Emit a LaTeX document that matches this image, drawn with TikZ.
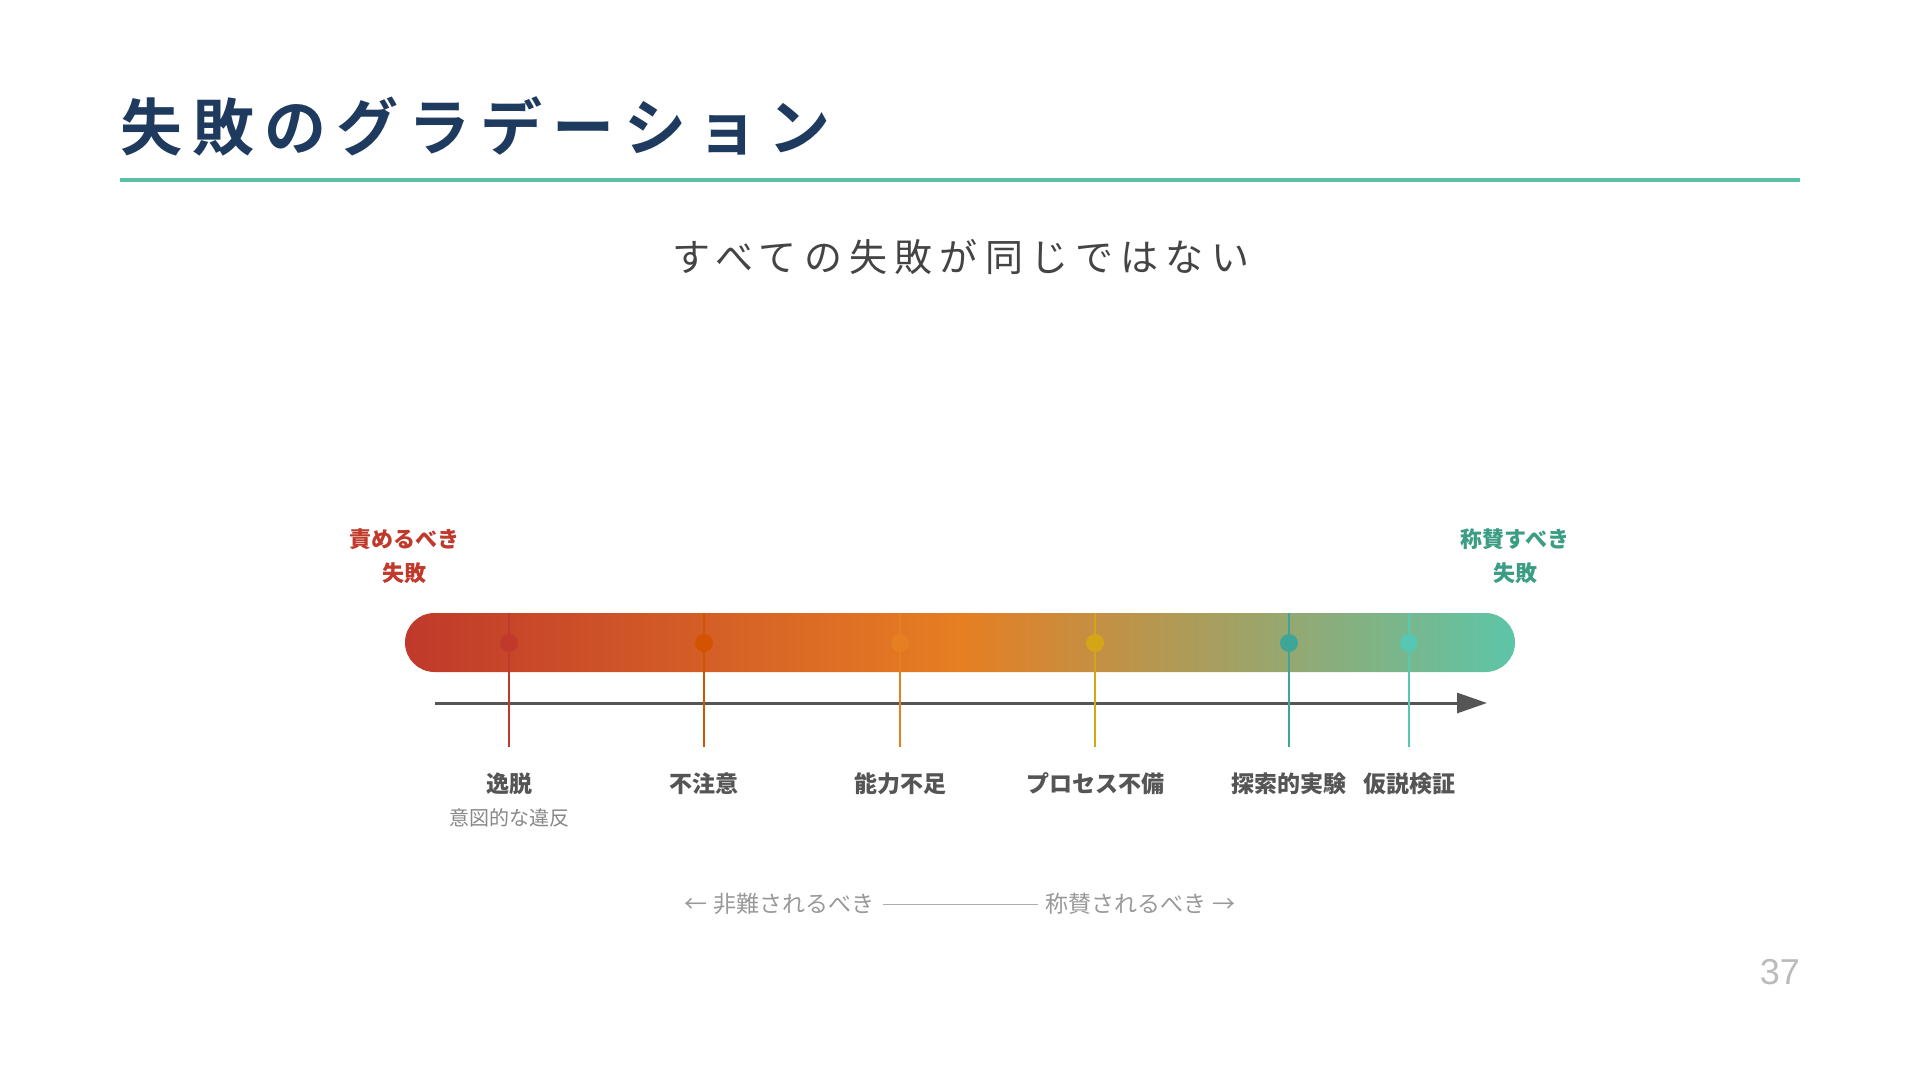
\documentclass[tikz,border=0pt]{standalone}
\usepackage{fontspec}
\setmainfont{Noto Sans CJK JP}
\newfontfamily\titlefont{Noto Sans CJK JP Bold}
\newfontfamily\subfont[LetterSpace=19]{Noto Sans CJK JP}
\newfontfamily\numfont{Liberation Sans}
\newcommand\titlegap{\kern10pt}
\usetikzlibrary{arrows.meta}

\definecolor{titlenavy}{HTML}{1E3A5F}
\definecolor{rulegreen}{HTML}{5DBFA6}
\definecolor{textdark}{HTML}{444444}
\definecolor{labeldark}{HTML}{555555}
\definecolor{subgray}{HTML}{888888}
\definecolor{notegray}{HTML}{999999}
\definecolor{pagegray}{HTML}{BBBBBB}
\definecolor{blamered}{HTML}{C0392B}
\definecolor{praisegreen}{HTML}{3A9D84}
\definecolor{cdeviate}{HTML}{C0392B}
\definecolor{ccareless}{HTML}{D35400}
\definecolor{cskill}{HTML}{E67E22}
\definecolor{cprocess}{HTML}{D4A517}
\definecolor{cexplore}{HTML}{3FA596}
\definecolor{chypo}{HTML}{55C7B2}
\definecolor{barleft}{HTML}{C0392B}
\definecolor{barmid}{HTML}{E67E22}
\definecolor{barright}{HTML}{5DC5A8}

\begin{document}
\begin{tikzpicture}[x=1pt, y=-1pt,
    tick/.style = {line width=2.5pt},
    dot/.style = {circle, inner sep=0pt, minimum size=18pt},
    kind/.style = {font=\bfseries\fontsize{23}{23}\selectfont, text=labeldark, inner sep=0pt},
    endlabel/.style = {font=\bfseries\fontsize{22}{34}\selectfont, align=center, inner sep=0pt}]
  \useasboundingbox[fill=white] (0,0) rectangle (1920,1080);

  % heading
  \node[anchor=west, inner sep=0pt, text=titlenavy,
        font=\titlefont\fontsize{62}{62}\selectfont] (title) at (120,126)
    {失\titlegap 敗\titlegap の\titlegap グ\titlegap ラ\titlegap デ\titlegap ー\titlegap シ\titlegap ョ\titlegap ン};
  \coordinate (ruleL) at (120,180);
  \coordinate (ruleR) at (1800,180);
  \draw[rulegreen, line width=4pt] (ruleL) -- (ruleR);
  \node[inner sep=0pt, text=textdark, font=\subfont\fontsize{38}{38}\selectfont] (lead) at (961,257) {すべての失敗が同じではない};

  % gradient bar
  \shade[left color=barleft, right color=barright, middle color=barmid, rounded corners=29.5pt]
    (405,613) rectangle (1515,672);

  % axis
  \coordinate (axisL) at (435,703);
  \coordinate (axisR) at (1487,703);
  \draw[labeldark, line width=3pt, -{Triangle[length=30pt, width=20pt]}] (axisL) -- (axisR);

  % end labels
  \node[endlabel, text=blamered] (blame) at (404,556) {責めるべき\\失敗};
  \node[endlabel, text=praisegreen] (praise) at (1515,556) {称賛すべき\\失敗};

  % markers
  \coordinate (t1) at ( 509,613); \coordinate (b1) at ( 509,747);
  \coordinate (t2) at ( 704,613); \coordinate (b2) at ( 704,747);
  \coordinate (t3) at ( 900,613); \coordinate (b3) at ( 900,747);
  \coordinate (t4) at (1095,613); \coordinate (b4) at (1095,747);
  \coordinate (t5) at (1289,613); \coordinate (b5) at (1289,747);
  \coordinate (t6) at (1409,613); \coordinate (b6) at (1409,747);

  \draw[tick, cdeviate]  (t1) -- (b1);
  \draw[tick, ccareless] (t2) -- (b2);
  \draw[tick, cskill]    (t3) -- (b3);
  \draw[tick, cprocess]  (t4) -- (b4);
  \draw[tick, cexplore]  (t5) -- (b5);
  \draw[tick, chypo]     (t6) -- (b6);

  \node[dot, fill=cdeviate]  at ( 509,643) (d1) {};
  \node[dot, fill=ccareless] at ( 704,643) (d2) {};
  \node[dot, fill=cskill]    at ( 900,643) (d3) {};
  \node[dot, fill=cprocess]  at (1095,643) (d4) {};
  \node[dot, fill=cexplore]  at (1289,643) (d5) {};
  \node[dot, fill=chypo]     at (1409,643) (d6) {};

  \node[kind] at ( 509,784) (k1) {逸脱};
  \node[kind] at ( 704,784) (k2) {不注意};
  \node[kind] at ( 900,784) (k3) {能力不足};
  \node[kind] at (1095,784) (k4) {プロセス不備};
  \node[kind] at (1289,784) (k5) {探索的実験};
  \node[kind] at (1409,784) (k6) {仮説検証};
  \node[inner sep=0pt, text=subgray, font=\fontsize{20}{20}\selectfont] at (509,818) (k1note) {意図的な違反};

  % bottom note
  \node[inner sep=0pt, text=notegray, font=\fontsize{23}{23}\selectfont] at (960,904) (scale)
    {←\hspace{6pt}非難されるべき\hspace{8pt}{\color{notegray!80}\rule[0.33em]{155pt}{1pt}}\hspace{8pt}称賛されるべき\hspace{6pt}→};

  \node[anchor=east, inner sep=0pt, text=pagegray, font=\numfont\fontsize{36}{36}\selectfont] at (1800,972) (page) {37};
\end{tikzpicture}
\end{document}
